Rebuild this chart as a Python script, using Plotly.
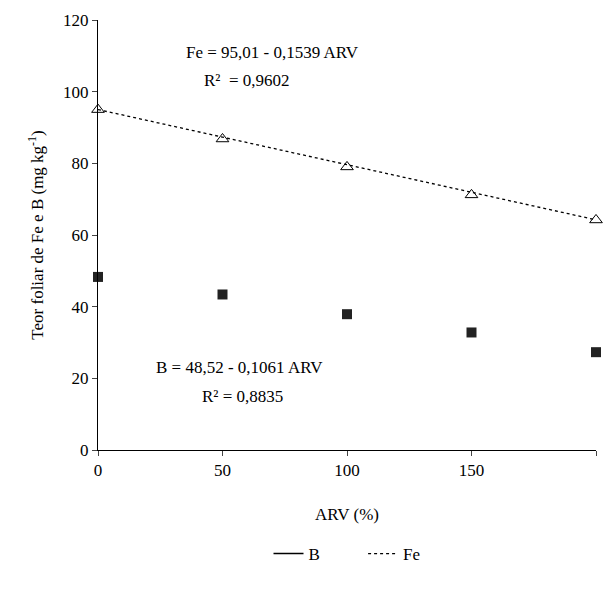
import plotly.graph_objects as go

arv = [0, 50, 100, 150, 200]
fe = [95.0, 86.8, 79.0, 71.2, 64.2]
b = [48.3, 43.4, 37.9, 32.8, 27.3]
fe_fit = [95.01 - 0.1539 * x for x in arv]

f = dict(family="Liberation Serif", size=17, color="black")
fig = go.Figure()
fig.add_trace(go.Scatter(x=[None], y=[None], mode="lines", name="B&nbsp;&nbsp;&nbsp;&nbsp;&nbsp;&nbsp;&nbsp;&nbsp;&nbsp;",
                         line=dict(color="black", width=1.5)))
fig.add_trace(go.Scatter(x=arv, y=fe_fit, mode="lines", name="Fe",
                         line=dict(color="black", width=1.3, dash="dot")))
fig.add_trace(go.Scatter(x=arv, y=fe, mode="markers", showlegend=False, cliponaxis=False,
                         marker=dict(symbol="triangle-up-open", size=11, color="black", line=dict(width=1))))
fig.add_trace(go.Scatter(x=arv, y=b, mode="markers", showlegend=False, cliponaxis=False,
                         marker=dict(symbol="square", size=10, color="#222")))
fig.add_annotation(x=70, y=111, text="Fe = 95,01 - 0,1539 ARV", showarrow=False, font=f)
fig.add_annotation(x=60, y=103, text="R² &nbsp;= 0,9602", showarrow=False, font=f)
fig.add_annotation(x=57, y=23, text="B = 48,52 - 0,1061 ARV", showarrow=False, font=f)
fig.add_annotation(x=58, y=15, text="R² = 0,8835", showarrow=False, font=f)
fig.update_layout(
    width=600, height=576, plot_bgcolor="white", paper_bgcolor="white",
    margin=dict(l=90, r=12, t=12, b=112), font=f,
    xaxis=dict(range=[0, 200], tickvals=arv, ticks="outside", showline=True, linecolor="black",
               automargin=False,
               tickfont=f, showgrid=False, zeroline=False, title=dict(text="ARV (%)", standoff=28, font=f)),
    yaxis=dict(range=[0, 120], dtick=20, ticks="outside", showline=True, linecolor="black",
               automargin=False,
               tickfont=f, showgrid=False, zeroline=False,
               title=dict(text="Teor foliar de Fe e B (mg kg<sup>-1</sup>)", font=f)),
    legend=dict(orientation="h", x=0.5, xanchor="center", y=-0.2, yanchor="top", font=f),
)
fig.write_html("out.html")
